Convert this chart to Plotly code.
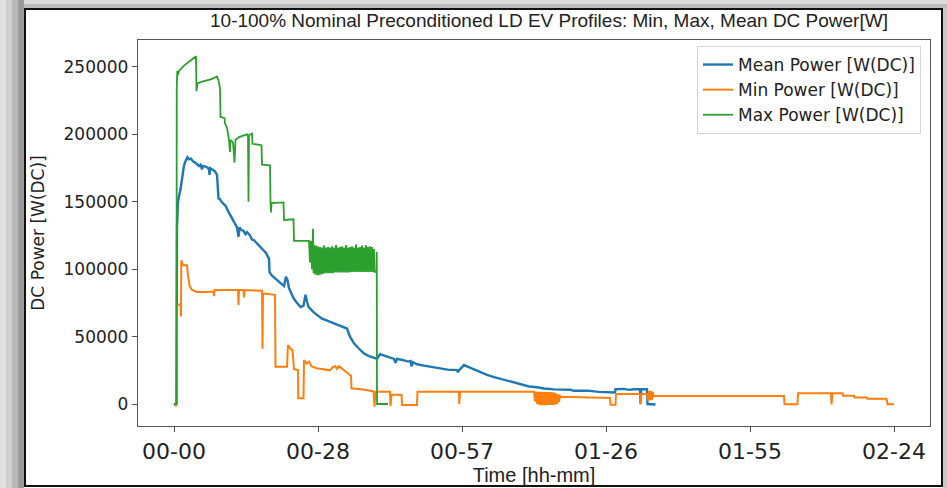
import plotly.graph_objects as go

# ---------------- data (time in minutes, power in W) ----------------
tick_vals = [0, 28.8, 57.6, 86.4, 115.2, 144]
tick_text = ["00-00", "00-28", "00-57", "01-26", "01-55", "02-24"]
y_tick_vals = [0, 50000, 100000, 150000, 200000, 250000]
y_tick_text = ["0", "50000", "100000", "150000", "200000", "250000"]

mean_t = [0.5, 0.55, 0.6, 0.8, 0.9, 1.1, 1.3, 1.6, 2.0, 2.4, 2.7, 3.0, 3.4, 3.8, 4.3, 4.6, 5.0, 5.3,
          5.6, 5.8, 6.5, 7.0, 7.1, 7.2, 7.8, 8.2, 8.6, 8.9, 9.2, 9.5, 9.9, 10.3, 10.9, 11.3, 11.9,
          12.3, 12.6, 12.9, 13.1, 13.5, 13.9, 14.3, 14.6, 15.2, 15.6, 16.0, 16.6, 17.2, 17.9, 18.4,
          18.8, 19.0, 19.1, 19.4, 20.0, 20.6, 21.3, 22.0, 22.4, 22.7, 23.0, 23.5, 23.9, 24.6, 25.3,
          25.9, 26.3, 26.6, 26.9, 27.8, 28.6, 29.5, 30.5, 31.5, 32.0, 32.8, 33.6, 34.6, 35.2, 35.7,
          36.0, 37.0, 38.0, 39.0, 40.0, 40.6, 41.2, 42.0, 43.3, 44.0, 44.3, 44.6, 45.9, 46.8, 47.3,
          47.5, 47.8, 48.6, 50.0, 51.8, 52.6, 54.7, 56.6, 56.8, 57.0, 58.0, 59.3, 61.0, 62.6, 64.0,
          66.0, 67.5, 69.3, 71.0, 72.6, 74.0, 76.0, 78.0, 79.3, 80.0, 82.7, 85.0, 88.2, 88.3, 90.0,
          91.0, 92.0, 93.2, 93.3, 93.45, 94.6, 94.7, 96.3]
mean_p = [0, 60000, 131000, 150000, 154000, 156000, 159000, 168000, 177000, 181000, 183000, 181500,
          182000, 180000, 179000, 178000, 176500, 177500, 174000, 176500, 176000, 174000, 170000,
          175000, 173500, 172500, 170000, 152500, 152000, 150000, 148500, 147000, 142500, 140000,
          135500, 133000, 131000, 124000, 131000, 129000, 128500, 126000, 127500, 125000, 122000,
          121500, 119000, 116500, 114000, 112000, 109000, 108000, 98000, 96000, 94000, 92000, 90000,
          87500, 94500, 92000, 86000, 81000, 78500, 75000, 72000, 73000, 81000, 76000, 72000, 68500,
          66000, 63500, 62000, 60500, 60000, 58500, 57500, 56000, 50000, 47000, 45000, 41000, 37500,
          35500, 34500, 33500, 37000, 36000, 34000, 33500, 30500, 33500, 32500, 31500, 32000, 28000,
          31000, 29500, 28500, 27500, 26800, 25500, 25200, 23500, 25000, 28900, 26800, 24000, 21700,
          20000, 18000, 16000, 14200, 13000, 12400, 11500, 10900, 10900, 10600, 9800, 9900, 9000,
          8600, 11000, 11200, 10500, 11000, 11000, 500, 11000, 11000, 0, -300]

min_t = [0, 0.3, 0.45, 0.5, 0.55, 0.6, 1.3, 1.4, 1.45, 1.8, 2.6, 2.8, 3.1, 3.5, 4.5, 6.0, 7.9, 8.0,
         8.1, 10.0, 12.8, 12.9, 13.0, 13.9, 14.0, 14.1, 17.4, 17.6, 17.7, 17.8, 20.2, 20.3, 22.6,
         22.8, 23.3, 23.7, 24.0, 24.8, 24.85, 25.9, 26.0, 26.5, 27.0, 27.5, 28.5, 30.0, 31.2, 31.8,
         32.3, 32.6, 33.0, 34.0, 35.4, 35.5, 37.5, 39.8, 39.9, 40.1, 40.3, 43.2, 43.3, 43.5, 45.5,
         45.6, 48.6, 48.7, 57.0, 57.05, 57.2, 72.0,
         72.2, 72.4, 72.6, 72.8, 73.0, 73.2, 73.4, 73.6, 73.8, 74.0, 74.2, 74.4, 74.6, 74.8, 75.0,
         75.2, 75.4, 75.6, 75.8, 76.0, 76.2, 76.4, 76.6, 76.8, 77.0, 77.2,
         77.4, 87.2, 87.3, 88.3, 88.4, 93.2, 93.3, 93.5, 94.6,
         94.8, 95.0, 95.2, 95.4, 95.6, 95.8,
         95.9, 122.0, 122.1, 124.7, 124.8, 131.4, 131.5, 131.7, 133.7, 133.8, 136.0, 136.1, 138.6,
         138.7, 142.5, 142.7, 144.0]
min_p = [0, -1500, -1500, 15000, 2000, 73500, 74000, 65000, 106500, 103000, 103000, 95000, 88000,
         85000, 83000, 83000, 83500, 80000, 84500, 84500, 84500, 73500, 84500, 84500, 79000, 84500,
         84500, 84000, 41000, 82000, 81000, 27700, 27700, 43800, 41000, 40000, 26000, 25000, 4200,
         4200, 32600, 30000, 31500, 28000, 26500, 25500, 25000, 27500, 28000, 26000, 28000, 25000,
         21000, 11600, 11000, 9500, 9100, -2000, 9100, 9100, -1500, 7000, 6700, -700, -700, 9100,
         9100, 0, 9100, 9100,
         2000, 9000, 0, 9000, -500, 9000, -800, 9000, -800, 9000, -800, 8800, -800, 8800, -700,
         8800, -700, 8600, -600, 8500, -500, 8000, 0, 7000, 1500, 6000,
         5400, 4500, -500, -500, 7500, 7500, -300, 7500, 7500,
         2600, 9800, 2600, 9800, 3000, 9000,
         5900, 5900, -200, -200, 7900, 7900, -200, 7900, 7900, 6200, 6200, 4900, 4900, 3900, 3900,
         -200, -200]

max_t = [0, 0.5, 0.55, 0.65, 0.8, 1.0, 2.0, 3.0, 4.4, 4.5, 4.7, 6.0, 7.5, 8.6, 8.9, 9.1, 9.2, 9.3,
         10.1, 10.2, 10.6, 11.0, 11.2, 11.3, 11.8, 12.1, 12.3, 13.0, 13.7, 14.0, 14.6, 14.8, 14.9,
         15.0, 15.6, 15.7, 17.5, 17.6, 19.2, 19.3, 19.4, 19.5, 21.9, 22.0, 23.9, 24.0, 26.8,
         27.0, 27.2, 27.4, 27.6, 27.8, 27.9, 28.0, 28.2, 28.4, 28.6, 28.8, 29.0, 29.2, 29.4, 29.6,
         29.8, 30.0, 30.2, 30.4, 30.6, 30.8, 31.0, 31.2, 31.4, 31.6, 31.8, 32.0, 32.2, 32.4, 32.6,
         32.8, 33.0, 33.2, 33.4, 33.6, 33.8, 34.0, 34.2, 34.4, 34.6, 34.8, 35.0, 35.2, 35.4, 35.6,
         35.8, 36.0, 36.2, 36.4, 36.6, 36.8, 37.0, 37.2, 37.4, 37.6, 37.8, 38.0, 38.2, 38.4, 38.6,
         38.8, 39.0, 39.2, 39.4, 39.6, 39.8, 40.0, 40.1, 40.5, 40.55, 40.6, 42.8]
max_p = [0, 0, 234000, 247000, 244000, 247000, 251000, 254000, 258000, 232000, 238000, 239500,
         241000, 243000, 240000, 236000, 234500, 213000, 212000, 208000, 205000, 196000, 187000,
         196000, 194000, 179000, 196000, 198000, 199000, 199500, 200000, 199000, 150000, 199500,
         200500, 193000, 192000, 177500, 177000, 149500, 142000, 149000, 149500, 136500, 137000,
         121000, 121000,
         121000, 105000, 121000, 100000, 130000, 97000, 118000, 96000, 117500, 95500, 117000, 95500,
         116500, 96000, 116000, 96500, 117500, 97000, 116000, 97000, 116500, 97000, 116000, 97000,
         117000, 97000, 116000, 97500, 118000, 97500, 116000, 97500, 116500, 97500, 117000, 97500,
         116000, 97500, 118000, 97500, 116000, 97500, 116500, 98000, 117000, 98000, 116000, 98000,
         118500, 98000, 116000, 98000, 116500, 98000, 117500, 98000, 116000, 98000, 118000, 98000,
         116500, 98000, 117000, 98000, 116500, 98000, 115000, 98000, 98000, 113000, 0, 0]

series_names = ["Mean Power [W(DC)]", "Min Power [W(DC)]", "Max Power [W(DC)]"]
series_colors = ["#1f77b4", "#ff7f0e", "#2ca02c"]
series_widths = [2.4, 2.0, 1.8]

# ---------------- figure ----------------
W, H = 947, 488
L, R, T, B = 138, 17, 40, 62
PW, PH = W - L - R, H - T - B


def px(x):
    return (x - L) / PW


def py(y):
    return (H - B - y) / PH


fig = go.Figure()
for t, p, name, col, lw in zip([mean_t, min_t, max_t], [mean_p, min_p, max_p], series_names,
                               series_colors, series_widths):
    fig.add_trace(go.Scatter(x=t, y=p, mode="lines", name=name,
                             line=dict(color=col, width=lw)))

axis_common = dict(showline=True, mirror=True, linecolor="#555555", linewidth=1.3,
                   ticks="outside", ticklen=5, tickcolor="#555555", showgrid=False,
                   zeroline=False)

fig.update_xaxes(range=[-7.2, 151.2], tickvals=tick_vals, ticktext=tick_text,
                 tickfont=dict(family="DejaVu Sans", size=22, color="#222"),
                 title=dict(text="Time [hh-mm]", standoff=3,
                            font=dict(family="Liberation Sans", size=20, color="#222")),
                 **axis_common)
fig.update_yaxes(range=[-16300, 270000], tickvals=y_tick_vals, ticktext=y_tick_text,
                 tickfont=dict(family="DejaVu Sans", size=17, color="#222"),
                 title=dict(text="DC Power [W(DC)]", standoff=14,
                            font=dict(family="DejaVu Sans", size=17, color="#222")),
                 **axis_common)

shapes = []
# shadow bands around the frame
left_bands = [(0, 6, "#e2e2e2"), (6, 12, "#cfcfcf"), (12, 18, "#b8b8b8"), (18, 24, "#9a9a9a")]
for x0, x1, c in left_bands:
    shapes.append(dict(type="rect", xref="paper", yref="paper", x0=px(x0), x1=px(x1),
                       y0=py(H), y1=py(0), fillcolor=c, line=dict(width=0), layer="below"))
top_bands = [(0, 4, "#dcdcdc"), (4, 8, "#bdbdbd")]
for y0, y1, c in top_bands:
    shapes.append(dict(type="rect", xref="paper", yref="paper", x0=px(24), x1=px(W),
                       y0=py(y1), y1=py(y0), fillcolor=c, line=dict(width=0), layer="below"))
shapes.append(dict(type="rect", xref="paper", yref="paper", x0=px(943), x1=px(W),
                   y0=py(H), y1=py(8), fillcolor="#c8c8c8", line=dict(width=0), layer="below"))
shapes.append(dict(type="rect", xref="paper", yref="paper", x0=px(25), x1=px(942),
                   y0=py(486), y1=py(9), line=dict(color="#111111", width=2)))

fig.update_layout(
    width=W, height=H, margin=dict(l=L, r=R, t=T, b=B, autoexpand=False),
    paper_bgcolor="white", plot_bgcolor="white",
    shapes=shapes,
    showlegend=True,
    legend=dict(x=px(921), xanchor="right", y=py(46), yanchor="top",
                bgcolor="white", bordercolor="#d4d4d4", borderwidth=1,
                font=dict(family="DejaVu Sans", size=17, color="#222"),
                tracegroupgap=0, itemwidth=30),
    annotations=[dict(text="10-100% Nominal Preconditioned LD EV Profiles: Min, Max, Mean DC Power[W]",
                      xref="paper", yref="paper", x=px(549), y=py(20), xanchor="center",
                      yanchor="middle", showarrow=False,
                      font=dict(family="Liberation Sans", size=19, color="#222"))],
)

fig.write_html("out.html")
